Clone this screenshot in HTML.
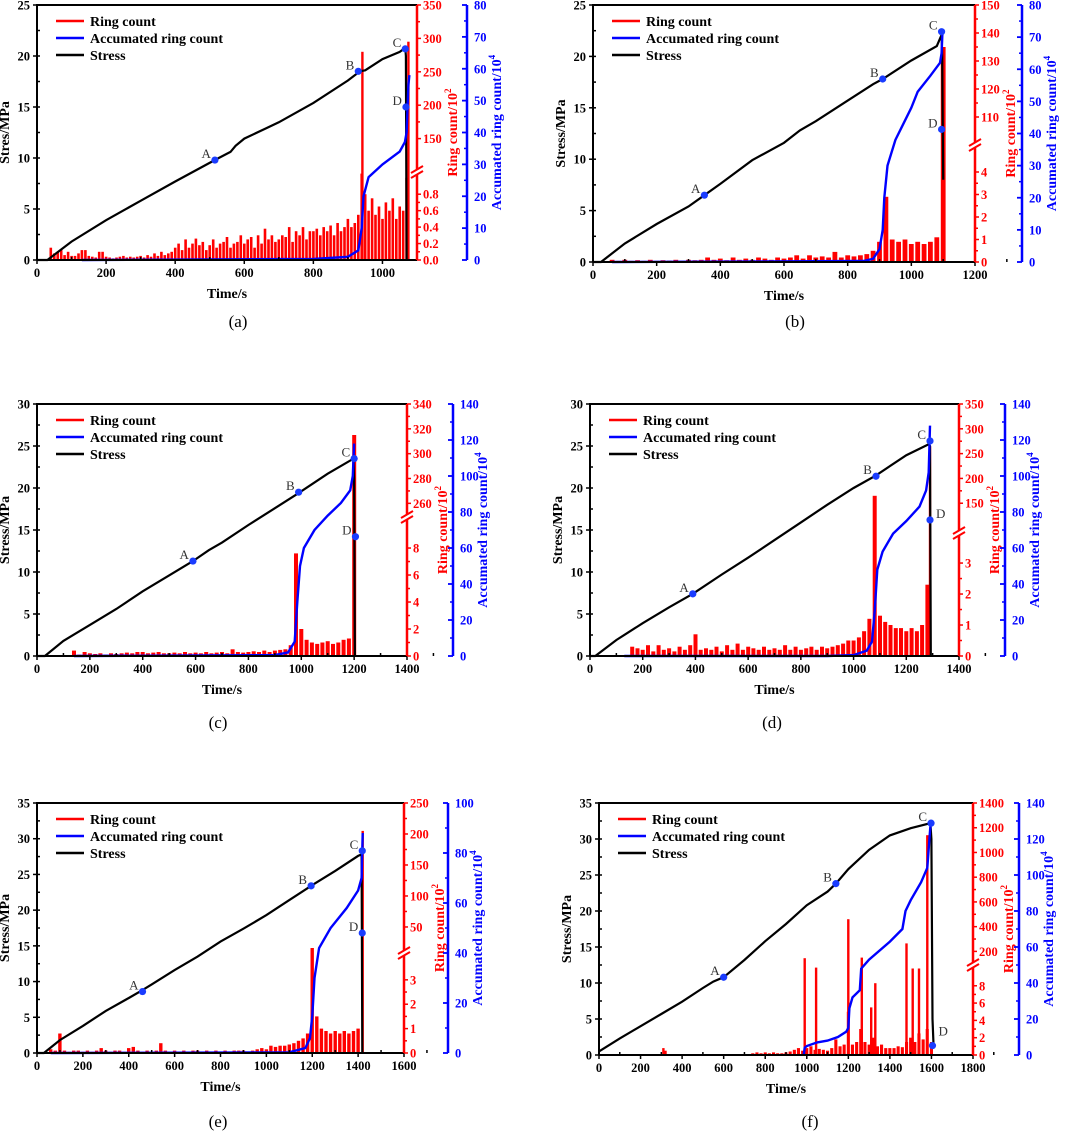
<!DOCTYPE html>
<html><head><meta charset="utf-8"><style>
html,body{margin:0;padding:0;background:#fff;}
svg text{font-family:"Liberation Serif",serif;}
</style></head><body>
<svg id="fig" width="1065" height="1137" viewBox="0 0 1065 1137" xmlns="http://www.w3.org/2000/svg"></svg>
<script>
// ---------- data (time s, value) ----------
const stressA=[[0,0],[30,0],[100,1.8],[200,3.9],[300,5.8],[400,7.7],[515,9.8],[560,10.6],[575,11.2],[600,11.9],[700,13.5],[800,15.4],[900,17.6],[935,18.5],[950,18.6],[1000,19.7],[1050,20.4],[1066,20.8],[1068,20],[1070,0]];
const accA=[[130,0],[800,0.3],[900,1],[930,3],[940,10],[945,20],[960,26],[1000,30],[1050,34],[1065,37],[1070,40],[1075,55],[1078,58]];
const ringStartA=40, ringStepA=10;
const ringA=[0.15,0.08,0.1,0.12,0.06,0.1,0.05,0.05,0.08,0.12,0.12,
0.05,0.04,0.03,0.1,0.1,0.04,0.03,0.02,0.03,0.04,0.05,0.03,0.04,0.03,0.04,
0.05,0.03,0.06,0.04,0.08,0.05,0.1,0.06,0.08,0.1,
0.15,0.2,0.12,0.25,0.15,0.2,0.26,0.18,0.22,0.12,
0.18,0.25,0.15,0.2,0.22,0.28,0.15,0.2,0.22,0.3,
0.2,0.25,0.28,0.15,0.3,0.2,0.38,0.25,0.3,0.22,
0.25,0.3,0.28,0.4,0.22,0.35,0.3,0.4,0.25,0.35,
0.35,0.38,0.3,0.4,0.35,0.42,0.3,0.45,0.35,0.4,
0.5,0.4,0.45,0.55,1.05,
0.8,0.6,0.75,0.55,0.65,0.5,0.7,0.6,0.75,0.5,0.65,0.6,1.0];
const spikeTA=[942,1075], spikeVA=[280,295];
const markA=[[515,9.8,'A'],[930,18.5,'B'],[1066,20.7,'C'],[1068,15,'D']];

const stressB=[[0,0],[25,0],[100,1.8],[200,3.7],[300,5.4],[350,6.5],[400,7.6],[500,9.9],[600,11.6],[650,12.8],[700,13.7],[800,15.7],[880,17.3],[910,17.8],[1000,19.6],[1080,21],[1095,22.1],[1097,20],[1100,8]];
const accB=[[60,0],[850,0.3],[880,1],[900,4],[910,10],[915,20],[925,30],[950,38],[1000,48],[1020,53],[1060,58],[1090,62],[1095,65],[1098,72]];
const ringStartB=60, ringStepB=20;
const ringB=[0.1,0.05,0.1,0.05,0.08,0.05,0.1,0.05,0.08,0.06,0.1,0.05,0.1,
0.08,0.1,0.2,0.1,0.15,0.08,0.2,0.1,0.15,0.1,0.2,0.15,0.1,0.2,
0.15,0.2,0.3,0.15,0.3,0.2,0.25,0.2,0.45,0.2,0.3,0.25,0.3,0.35,
0.5,0.9,2.9,1.0,0.9,1.0,0.8,0.9,0.8,0.9,1.1,135];
const spikeTB=[], spikeVB=[];
const markB=[[350,6.5,'A'],[910,17.8,'B'],[1095,22.4,'C'],[1095,12.9,'D']];

const stressC=[[0,0],[30,0],[100,1.8],[200,3.7],[300,5.6],[400,7.7],[500,9.6],[590,11.3],[650,12.6],[700,13.5],[800,15.6],[900,17.6],[985,19.3],[1100,21.7],[1198,23.5],[1200,21],[1203,0]];
const accC=[[140,0],[900,0.5],[950,2],[975,8],[985,30],[995,50],[1010,60],[1050,70],[1100,78],[1150,85],[1185,92],[1195,100],[1200,118]];
const ringStartC=140, ringStepC=20;
const ringC=[0.4,0.1,0.3,0.2,0.15,0.2,0.1,0.2,0.15,0.2,0.25,0.2,0.3,
0.3,0.2,0.25,0.3,0.2,0.2,0.25,0.2,0.3,0.2,0.25,0.2,0.3,0.2,0.25,
0.3,0.2,0.5,0.3,0.25,0.3,0.35,0.3,0.4,0.3,0.4,0.45,0.5,
0.8,7.6,2,1.2,
1.0,0.9,1.0,1.1,0.9,1.0,1.2,1.3,315];
const spikeTC=[], spikeVC=[];
const markC=[[590,11.3,'A'],[990,19.5,'B'],[1200,23.5,'C'],[1205,14.2,'D']];

const stressD=[[0,0],[20,0],[100,1.9],[200,3.9],[300,5.8],[390,7.4],[500,9.7],[600,11.7],[700,13.8],[800,15.9],[900,18],[1000,20],[1085,21.5],[1200,23.9],[1285,25.2],[1290,25],[1293,0]];
const accD=[[130,0],[900,0],[1000,0.5],[1050,3],[1070,8],[1080,25],[1090,48],[1110,58],[1150,68],[1200,75],[1250,83],[1275,92],[1285,102],[1290,128]];
const ringStartD=160, ringStepD=20;
const ringD=[0.3,0.25,0.2,0.35,0.15,0.35,0.2,0.25,0.15,0.3,0.2,0.35,0.7,
0.2,0.25,0.2,0.3,0.15,0.35,0.2,0.4,0.2,0.3,0.25,0.2,0.3,0.2,0.25,
0.2,0.35,0.2,0.3,0.2,0.25,0.3,0.2,0.3,0.25,0.3,0.35,
0.4,0.5,0.5,0.6,0.8,1.2,165,
1.3,1.1,1.0,0.9,0.9,0.8,0.9,0.8,1.0,2.3];
const spikeTD=[1290], spikeVD=[265];
const markD=[[390,7.4,'A'],[1085,21.4,'B'],[1290,25.6,'C'],[1290,16.2,'D']];

const stressE=[[0,0],[30,0],[100,1.8],[200,3.8],[300,5.9],[400,7.7],[460,8.8],[500,9.6],[600,11.6],[700,13.5],[800,15.6],[900,17.4],[1000,19.3],[1100,21.4],[1200,23.5],[1300,25.5],[1400,27.6],[1415,27.8],[1418,0]];
const accE=[[60,0],[1100,0.3],[1170,2],[1190,6],[1200,15],[1210,30],[1230,42],[1280,50],[1350,58],[1400,65],[1415,70],[1420,88]];
const ringStartE=60, ringStepE=20;
const ringE=[0.15,0.1,0.8,0.1,0.05,0.1,0.1,0.05,0.1,0.05,0.1,0.2,
0.1,0.05,0.1,0.1,0.05,0.2,0.25,0.1,0.05,0.1,0.05,0.1,0.4,0.1,0.05,
0.1,0.05,0.1,0.05,0.1,0.1,0.05,0.1,0.05,0.1,0.05,0.1,0.05,0.1,0.1,
0.1,0.05,0.1,0.15,0.2,0.15,0.3,0.25,0.3,0.3,
0.35,0.4,0.5,0.6,0.8,16,
1.5,1.0,0.9,0.8,0.9,0.8,0.9,0.8,0.9,1.0];
const spikeTE=[1420], spikeVE=[205];
const markE=[[460,8.6,'A'],[1195,23.4,'B'],[1418,28.3,'C'],[1418,16.8,'D']];

const stressF=[[0,0.5],[100,2.3],[200,4],[300,5.7],[400,7.4],[500,9.3],[550,10.2],[600,10.8],[700,13.2],[800,15.8],[900,18.2],[1000,20.8],[1100,22.7],[1140,23.8],[1200,25.8],[1300,28.5],[1400,30.5],[1500,31.5],[1595,32.2],[1600,30],[1605,5],[1610,1.5]];
const accF=[[985,0],[990,4],[1000,5],[1050,7],[1100,8],[1150,10],[1190,13],[1200,15],[1205,26],[1220,32],[1255,36],[1262,48],[1300,53],[1400,63],[1460,70],[1475,80],[1500,86],[1550,96],[1580,104],[1590,120],[1595,127]];
const ringStartF=740, ringStepF=20;
const ringF=[0.2,0.3,0.2,0.3,0.2,0.3,0.2,0.2,0.3,0.4,0.6,0.8,
0.5,0.8,1.0,0.6,0.7,0.6,0.5,0.8,1.8,1.0,1.2,
5,1.2,1.5,3,1.5,1.2,2,1.0,1.2,0.8,0.8,
0.8,1.0,0.9,1.5,2,1.5,2.5,1.8,3,1.5];
const spikeTF=[310,320,990,1045,1200,1265,1310,1330,1480,1510,1540,1580];
const spikeVF=[0.8,0.5,145,10.1,460,150,5.5,8.3,265,10,10,1140];
const markF=[[600,10.8,'A'],[1140,23.8,'B'],[1598,32.2,'C'],[1605,1.3,'D']];

// ---------- geometry ----------
const panels=[
{id:'a',L:37,R:417,T:5,B:260,xmax:1100,xstep:200,ymax:25,ystep:5,ytitle:'Stres/MPa',blueX:467,blueMax:80,blueStep:10,
 lo:{max:1.07,yb:172,ticks:[0,0.2,0.4,0.6,0.8],dec:1},up:{min:100,max:350,ticks:[150,200,250,300,350]},lab:[238,327,'(a)'],
 stress:stressA,acc:accA,rs:ringStartA,rstep:ringStepA,ring:ringA,st:spikeTA,sv:spikeVA,mk:markA},
{id:'b',L:593,R:975,T:5,B:262,xmax:1200,xstep:200,ymax:25,ystep:5,ytitle:'Stress/MPa',blueX:1022,blueMax:80,blueStep:10,
 lo:{max:5.2,yb:145,ticks:[0,1,2,3,4],dec:0},up:{min:100,max:150,ticks:[110,120,130,140,150]},lab:[795,327,'(b)'],
 stress:stressB,acc:accB,rs:ringStartB,rstep:ringStepB,ring:ringB,st:spikeTB,sv:spikeVB,mk:markB},
{id:'c',L:37,R:407,T:404,B:656,xmax:1400,xstep:200,ymax:30,ystep:5,ytitle:'Stress/MPa',blueX:453,blueMax:140,blueStep:20,
 lo:{max:10.3,yb:517,ticks:[0,2,4,6,8],dec:0},up:{min:249,max:340,ticks:[260,280,300,320,340]},lab:[218,728,'(c)'],
 stress:stressC,acc:accC,rs:ringStartC,rstep:ringStepC,ring:ringC,st:spikeTC,sv:spikeVC,mk:markC},
{id:'d',L:590,R:959,T:404,B:656,xmax:1400,xstep:200,ymax:30,ystep:5,ytitle:'Stress/MPa',blueX:1005,blueMax:140,blueStep:20,
 lo:{max:3.97,yb:533,ticks:[0,1,2,3],dec:0},up:{min:90,max:350,ticks:[150,200,250,300,350]},lab:[772,728,'(d)'],
 stress:stressD,acc:accD,rs:ringStartD,rstep:ringStepD,ring:ringD,st:spikeTD,sv:spikeVD,mk:markD},
{id:'e',L:37,R:404,T:803,B:1053,xmax:1600,xstep:200,ymax:35,ystep:5,ytitle:'Stress/MPa',blueX:448,blueMax:100,blueStep:20,
 lo:{max:4.1,yb:953,ticks:[0,1,2,3],dec:0},up:{min:8,max:250,ticks:[50,100,150,200,250]},lab:[218,1127,'(e)'],
 stress:stressE,acc:accE,rs:ringStartE,rstep:ringStepE,ring:ringE,st:spikeTE,sv:spikeVE,mk:markE},
{id:'f',L:599,R:973,T:803,B:1055,xmax:1800,xstep:200,ymax:35,ystep:5,ytitle:'Stress/MPa',blueX:1019,blueMax:140,blueStep:20,
 lo:{max:10.4,yb:965,ticks:[0,2,4,6,8],dec:0},up:{min:90,max:1400,ticks:[200,400,600,800,1000,1200,1400]},lab:[810,1127,'(f)'],
 stress:stressF,acc:accF,rs:ringStartF,rstep:ringStepF,ring:ringF,st:spikeTF,sv:spikeVF,mk:markF}
];

const NS='http://www.w3.org/2000/svg';
const svg=document.getElementById('fig');
function mk(tag,attrs,parent,text){const e=document.createElementNS(NS,tag);for(const k in attrs)e.setAttribute(k,attrs[k]);if(text!==undefined)e.textContent=text;(parent||svg).appendChild(e);return e;}

panels.forEach(p=>{
  const g=mk('g',{});
  
  
  const X=t=>p.L+t/p.xmax*(p.R-p.L);
  const Y=v=>p.B-v/p.ymax*(p.B-p.T);
  const YB=v=>p.B-v/p.blueMax*(p.B-p.T);
  const YR=v=>v<=p.lo.max? p.B-v/p.lo.max*(p.B-p.lo.yb) : p.lo.yb-(v-p.up.min)/(p.up.max-p.up.min)*(p.lo.yb-p.T);

  const bars=mk('g',{fill:'#ff0000'},g);
  
  
  const bw=p.rstep/p.xmax*(p.R-p.L)*0.75;
  p.ring.forEach((v,i)=>{
    const t=p.rs+i*p.rstep; const y=YR(v);
    const r=mk('rect',{x:(X(t)-bw/2).toFixed(1),y:y.toFixed(1),width:Math.max(bw,1.5).toFixed(1),height:(p.B-y).toFixed(1)},bars);
    
    
  });
  p.st.forEach((t,i)=>{
    const y=YR(p.sv[i]);
    const r=mk('rect',{x:(X(t)-1.2).toFixed(1),y:y.toFixed(1),width:2.4,height:(p.B-y).toFixed(1)},bars);
    
    
  });

  const sl=mk('polyline',{points:p.stress.map(d=>X(d[0]).toFixed(1)+','+Y(d[1]).toFixed(1)).join(' '),fill:'none',stroke:'#000','stroke-width':2.2},g);
  
  
  const al=mk('polyline',{points:p.acc.map(d=>X(d[0]).toFixed(1)+','+YB(d[1]).toFixed(1)).join(' '),fill:'none',stroke:'#0000ff','stroke-width':2.4},g);
  
  

  p.mk.forEach(m=>{
    const c=mk('circle',{cx:X(m[0]),cy:Y(m[1]),r:3.6,fill:'#1a3cff'},g);
    
    
    const right=(p.id==='d'&&m[2]==='D')||(p.id==='f'&&m[2]==='D');
    const tx=mk('text',{x:right?X(m[0])+6:X(m[0])-4,y:Y(m[1])-(m[2]==='D'&&p.id==='f'?10:2),'font-size':13,fill:'#333','text-anchor':right?'start':'end'},g,m[2]);
    
    
  });

  const fr=mk('path',{d:`M${p.L},${p.B}V${p.T}H${p.R}M${p.L},${p.B}H${p.R}`,fill:'none',stroke:'#000','stroke-width':2},g);
  
  

  const xa=mk('g',{},g);
  
  
  for(let t=0;t<=p.xmax+1e-6;t+=p.xstep){
    mk('line',{x1:X(t),x2:X(t),y1:p.B,y2:p.B+4,stroke:'#000','stroke-width':1.5},xa);
    mk('line',{x1:X(t+p.xstep/2),x2:X(t+p.xstep/2),y1:p.B,y2:p.B-3,stroke:'#000','stroke-width':1.5},xa);
    mk('text',{x:X(t),y:p.B+17,'font-size':12.5,'font-weight':'bold','text-anchor':'middle'},xa,t);
  }
  const xt=mk('text',{x:(p.L+p.R)/2,y:p.B+38,'font-size':14,'font-weight':'bold','text-anchor':'middle'},g,'Time/s');
  
  

  const ya=mk('g',{},g);
  
  
  for(let v=0;v<=p.ymax+1e-6;v+=p.ystep){
    mk('line',{x1:p.L-4,x2:p.L+3,y1:Y(v),y2:Y(v),stroke:'#000','stroke-width':1.5},ya);
    if(v+p.ystep/2<p.ymax) mk('line',{x1:p.L,x2:p.L+3,y1:Y(v+p.ystep/2),y2:Y(v+p.ystep/2),stroke:'#000','stroke-width':1.5},ya);
    mk('text',{x:p.L-7,y:Y(v)+4.5,'font-size':12.5,'font-weight':'bold','text-anchor':'end'},ya,v);
  }
  const ym=(p.T+p.B)/2;
  const yt=mk('text',{x:p.L-28,y:ym,'font-size':14,'font-weight':'bold','text-anchor':'middle',transform:`rotate(-90 ${p.L-28} ${ym})`},g,p.ytitle);
  
  

  const ra=mk('g',{fill:'#ff0000'},g);
  
  
  mk('line',{x1:p.R,x2:p.R,y1:p.T,y2:p.B,stroke:'#ff0000','stroke-width':2.5},ra);
  const rt=(v,txt)=>{mk('line',{x1:p.R,x2:p.R+4,y1:YR(v),y2:YR(v),stroke:'#ff0000','stroke-width':1.5},ra);
    mk('text',{x:p.R+6,y:YR(v)+4.5,'font-size':12.5,'font-weight':'bold',fill:'#ff0000'},ra,txt);};
  p.lo.ticks.forEach(v=>rt(v,v.toFixed(p.lo.dec)));
  p.up.ticks.forEach(v=>rt(v,v));
  for(let i=0;i<p.lo.ticks.length-1;i++){const v=(p.lo.ticks[i]+p.lo.ticks[i+1])/2;mk('line',{x1:p.R,x2:p.R+3,y1:YR(v),y2:YR(v),stroke:'#ff0000','stroke-width':1.5},ra);}
  for(let i=0;i<p.up.ticks.length-1;i++){const v=(p.up.ticks[i]+p.up.ticks[i+1])/2;mk('line',{x1:p.R,x2:p.R+3,y1:YR(v),y2:YR(v),stroke:'#ff0000','stroke-width':1.5},ra);}
  const yb=p.lo.yb;
  mk('rect',{x:p.R-3,y:yb-3,width:7,height:6,fill:'#fff'},ra);
  mk('path',{d:`M${p.R-6},${yb+1}L${p.R+6},${yb-6}M${p.R-6},${yb+6}L${p.R+6},${yb-1}`,stroke:'#ff0000','stroke-width':2,fill:'none'},ra);
  const rx=p.R+40;
  const rtt=mk('text',{x:rx,y:ym,'font-size':14,'font-weight':'bold',fill:'#ff0000','text-anchor':'middle',transform:`rotate(-90 ${rx} ${ym})`},g);
  
  
  rtt.innerHTML='Ring count/10<tspan font-size="9" dy="-6">2</tspan>';

  const ba=mk('g',{},g);
  
  
  mk('line',{x1:p.blueX,x2:p.blueX,y1:p.T,y2:p.B,stroke:'#0000ff','stroke-width':2.5},ba);
  for(let v=0;v<=p.blueMax+1e-6;v+=p.blueStep){
    mk('line',{x1:p.blueX-5,x2:p.blueX,y1:YB(v),y2:YB(v),stroke:'#0000ff','stroke-width':1.8},ba);
    if(v+p.blueStep/2<p.blueMax) mk('line',{x1:p.blueX-3,x2:p.blueX,y1:YB(v+p.blueStep/2),y2:YB(v+p.blueStep/2),stroke:'#0000ff','stroke-width':1.5},ba);
    mk('text',{x:p.blueX+7,y:YB(v)+4.5,'font-size':12.5,'font-weight':'bold',fill:'#0000ff'},ba,v);
  }
  const bx=p.blueX+34;
  const btt=mk('text',{x:bx,y:ym,'font-size':14,'font-weight':'bold',fill:'#0000ff','text-anchor':'middle',transform:`rotate(-90 ${bx} ${ym})`},g);
  
  
  btt.innerHTML='Accumated ring count/10<tspan font-size="9" dy="-6">4</tspan>';

  const lg=mk('g',{},g);
  
  
  [['Ring count','#ff0000'],['Accumated ring count','#0000ff'],['Stress','#000']].forEach((e,i)=>{
    const y=p.T+16+i*17;
    mk('line',{x1:p.L+19,x2:p.L+47,y1:y,y2:y,stroke:e[1],'stroke-width':2.5},lg);
    const t=mk('text',{x:p.L+53,y:y+5,'font-size':14,'font-weight':'bold'},lg,e[0]);
    
    
  });

  const pl=mk('text',{x:p.lab[0],y:p.lab[1],'font-size':17,'text-anchor':'middle'},g,p.lab[2]);
  
  
});
</script>
</body></html>
